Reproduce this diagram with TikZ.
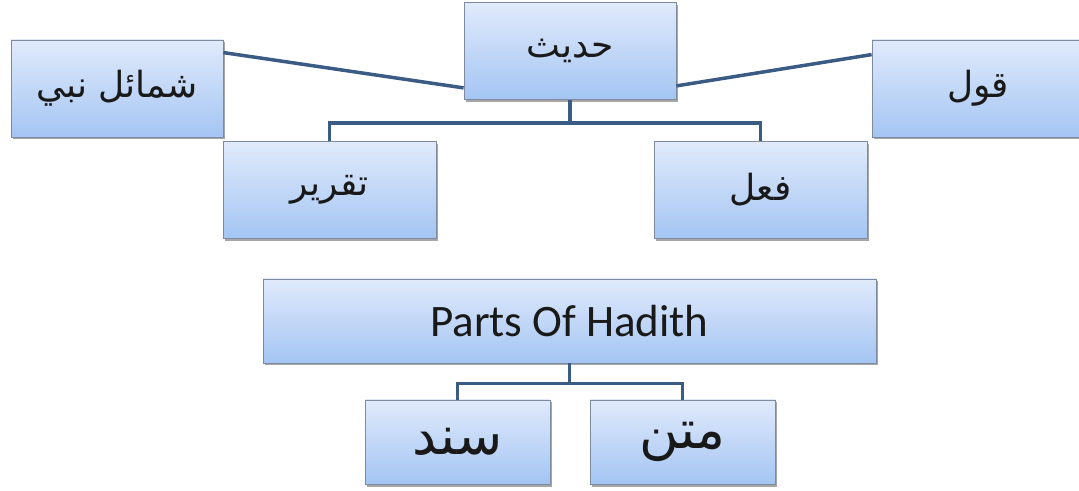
\documentclass[tikz,border=0pt]{standalone}
\usepackage{fontspec}
\setmainfont{Carlito}
\newfontfamily\arabicfont[Script=Arabic]{DejaVu Sans}
\TeXXeTstate=1
\usetikzlibrary{shadows}

\definecolor{boxline}{RGB}{125,138,160}
\definecolor{boxtop}{RGB}{224,234,251}
\definecolor{boxbot}{RGB}{164,197,243}
\definecolor{linkblue}{RGB}{58,92,132}
\newcommand{\ar}[1]{{\arabicfont\beginR #1\endR}}

\tikzset{
  box/.style={draw=boxline, line width=0.8pt, top color=boxtop, bottom color=boxbot,
    minimum width=212pt, minimum height=97pt, inner sep=0pt, text=black!90,
    font=\fontsize{36}{42}\selectfont,
    drop shadow={shadow xshift=1.5pt, shadow yshift=-2.5pt, fill=black, opacity=.35}},
  small/.style={minimum width=185pt, minimum height=84pt, font=\fontsize{54}{60}\selectfont},
  link/.style={draw=linkblue, line width=3.5pt}
}

\begin{document}
\begin{tikzpicture}[x=1pt,y=1pt]
    \useasboundingbox (0,0) rectangle (1079,490);
    \node[box] (hadith) at (570,439) {\ar{حديث}};
    \node[box] (shamail) at (117,401.5) {\ar{شمائل نبي}};
    \node[box] (qawl) at (978,401.5) {\ar{قول}};
    \node[box, minimum width=213pt] (taqrir) at (329.5,300) {\ar{تقرير}};
    \node[box, minimum width=213pt] (fil) at (760.5,300) {\ar{فعل}};
    \node[box, minimum width=613pt, minimum height=84pt, font=\fontsize{45}{50}\selectfont] (parts) at (569.5,169) {Parts Of Hadith};
    \node[box, small] (sanad) at (457.5,48) {\ar{سند}};
    \node[box, small] (matn) at (682.5,48) {\ar{متن}};
    \draw[link] ([yshift=-13pt]shamail.north east) -- ([yshift=12pt]hadith.south west);
    \draw[link] ([yshift=14pt]hadith.south east) -- ([yshift=-15pt]qawl.north west);
    \draw[link] (hadith.south) -- ++(0,-23) -| (taqrir.north);
    \draw[link] (hadith.south) -- ++(0,-23) -| (fil.north);
    \draw[link] (parts.south) -- ++(0,-20) -| (sanad.north);
    \draw[link] (parts.south) -- ++(0,-20) -| (matn.north);
\end{tikzpicture}
\end{document}
